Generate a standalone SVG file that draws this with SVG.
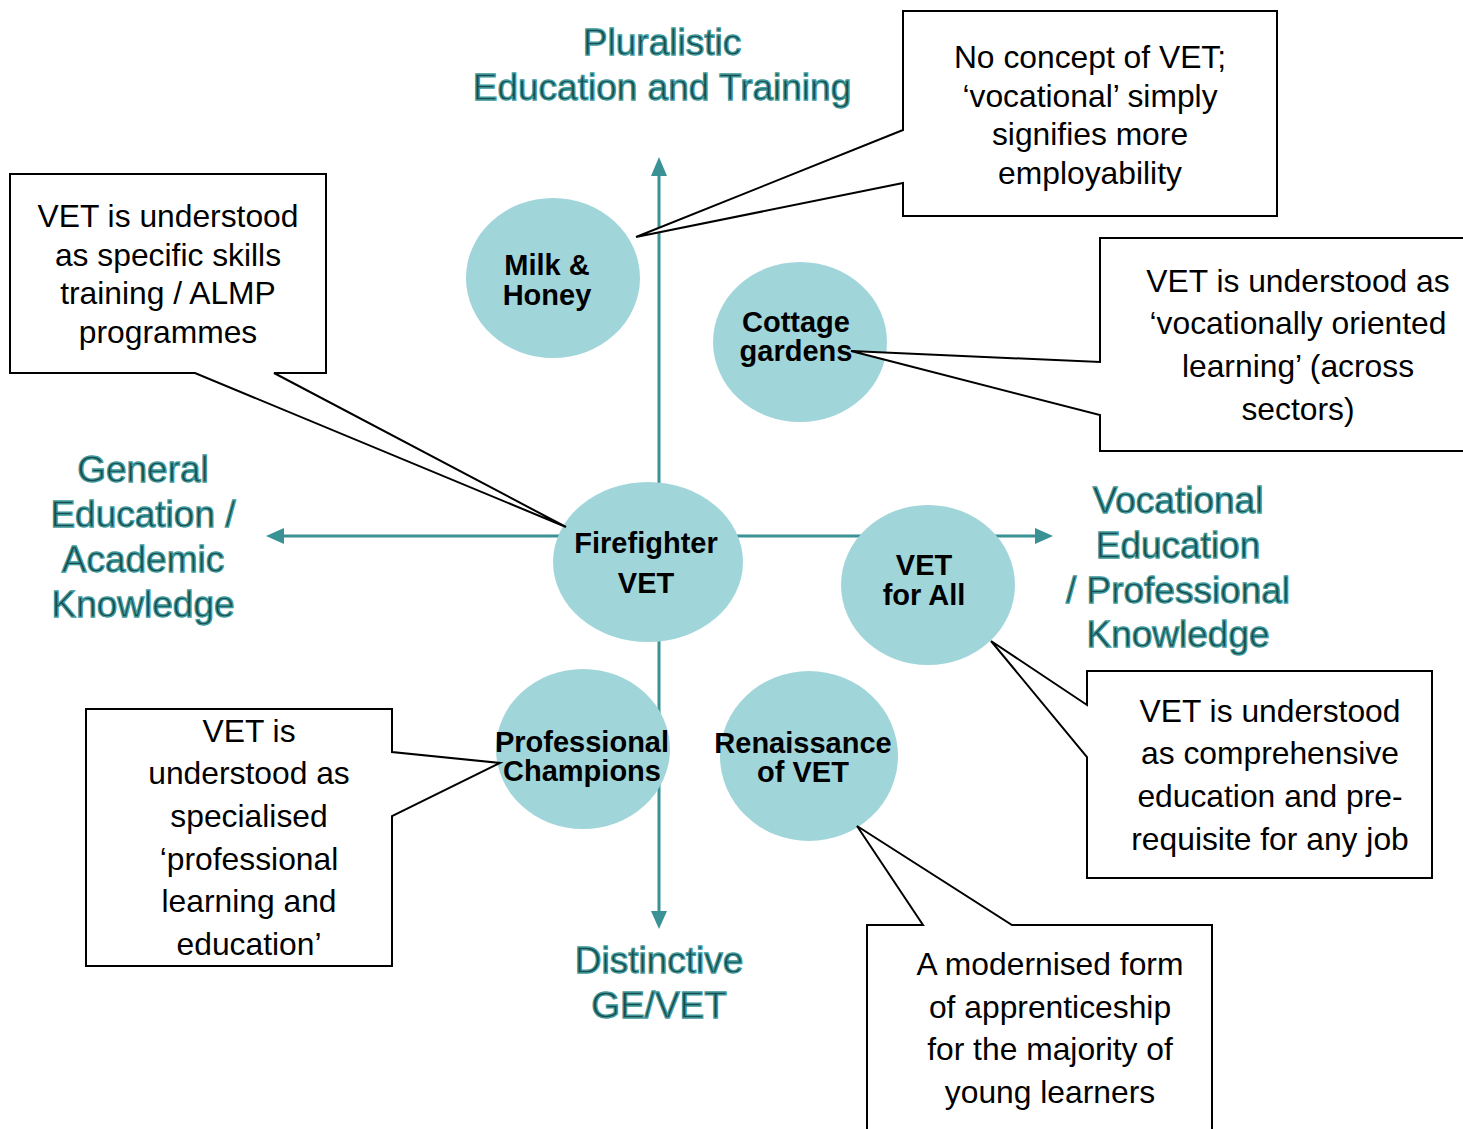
<svg xmlns="http://www.w3.org/2000/svg" width="1463" height="1129" viewBox="0 0 1463 1129">
  <style>
    .axis { stroke: #3a9294; stroke-width: 3; fill: none; }
    .head { fill: #3a9294; }
    .node { fill: #a0d5da; }
    .nlabel { font-family: "Liberation Sans", Arial, sans-serif; font-weight: bold; font-size: 29px; fill: #000; text-anchor: middle; }
    .callout { fill: #fff; stroke: #000; stroke-width: 2; stroke-linejoin: miter; }
    .ctext { font-family: "Liberation Sans", Arial, sans-serif; font-size: 31.8px; fill: #000; text-anchor: middle; }
    .alabel { font-family: "Liberation Sans", Arial, sans-serif; font-size: 37px; fill: #1a4b4d; stroke: #3e9a9c; stroke-width: 1.3; text-anchor: middle; }
  </style>
  <rect width="1463" height="1129" fill="#fff"/>

  <!-- axes -->
  <g id="connectors">
    <line class="axis" x1="659" y1="172" x2="659" y2="914"/>
    <line class="axis" x1="281" y1="536" x2="1038" y2="536"/>
    <polygon class="head" points="659,157 667,176 651,176"/>
    <polygon class="head" points="659,929 667,911 651,911"/>
    <polygon class="head" points="266,536 284,528 284,544"/>
    <polygon class="head" points="1053,536 1035,528 1035,544"/>
  </g>

  <!-- axis labels -->
  <g id="axis-top">
    <text class="alabel" x="662" y="55">Pluralistic</text>
    <text class="alabel" x="662" y="100">Education and Training</text>
  </g>
  <g id="axis-left">
    <text class="alabel" x="143" y="482">General</text>
    <text class="alabel" x="143" y="527">Education /</text>
    <text class="alabel" x="143" y="572">Academic</text>
    <text class="alabel" x="143" y="617">Knowledge</text>
  </g>
  <g id="axis-right">
    <text class="alabel" x="1178" y="513">Vocational</text>
    <text class="alabel" x="1178" y="558">Education</text>
    <text class="alabel" x="1178" y="603">/ Professional</text>
    <text class="alabel" x="1178" y="647">Knowledge</text>
  </g>
  <g id="axis-bottom">
    <text class="alabel" x="659" y="973">Distinctive</text>
    <text class="alabel" x="659" y="1018">GE/VET</text>
  </g>

  <!-- model nodes -->
  <g id="milk-honey">
    <ellipse class="node" cx="553" cy="278" rx="87" ry="80"/>
    <text class="nlabel" x="547" y="275">Milk &amp;</text>
    <text class="nlabel" x="547" y="305">Honey</text>
  </g>
  <g id="cottage-gardens">
    <ellipse class="node" cx="800" cy="342" rx="87" ry="80"/>
    <text class="nlabel" x="796" y="332">Cottage</text>
    <text class="nlabel" x="796" y="361">gardens</text>
  </g>
  <g id="firefighter-vet">
    <ellipse class="node" cx="648" cy="562" rx="95" ry="80"/>
    <text class="nlabel" x="646" y="553">Firefighter</text>
    <text class="nlabel" x="646" y="593">VET</text>
  </g>
  <g id="vet-for-all">
    <ellipse class="node" cx="928" cy="585" rx="87" ry="80"/>
    <text class="nlabel" x="924" y="575">VET</text>
    <text class="nlabel" x="924" y="605">for All</text>
  </g>
  <g id="professional-champions">
    <ellipse class="node" cx="583" cy="749" rx="87" ry="80"/>
    <text class="nlabel" x="582" y="752">Professional</text>
    <text class="nlabel" x="582" y="781">Champions</text>
  </g>
  <g id="renaissance-vet">
    <ellipse class="node" cx="809" cy="756" rx="89" ry="85"/>
    <text class="nlabel" x="803" y="753">Renaissance</text>
    <text class="nlabel" x="803" y="782">of VET</text>
  </g>

  <!-- callouts -->
  <g id="callout-firefighter">
    <path class="callout" d="M10,174 H326 V373 H274 L566,527 L195,373 H10 Z"/>
    <text class="ctext" x="168" y="227">VET is understood</text>
    <text class="ctext" x="168" y="266">as specific skills</text>
    <text class="ctext" x="168" y="304">training / ALMP</text>
    <text class="ctext" x="168" y="343">programmes</text>
  </g>
  <g id="callout-milk-honey">
    <path class="callout" d="M903,11 H1277 V216 H903 V183 L636,237 L903,130 Z"/>
    <text class="ctext" x="1090" y="68">No concept of VET;</text>
    <text class="ctext" x="1090" y="107">‘vocational’ simply</text>
    <text class="ctext" x="1090" y="145">signifies more</text>
    <text class="ctext" x="1090" y="184">employability</text>
  </g>
  <g id="callout-cottage">
    <path class="callout" d="M1100,238 H1470 V451 H1100 V415 L851,351 L1100,362 Z"/>
    <text class="ctext" x="1298" y="292">VET is understood as</text>
    <text class="ctext" x="1298" y="334">‘vocationally oriented</text>
    <text class="ctext" x="1298" y="377">learning’ (across</text>
    <text class="ctext" x="1298" y="420">sectors)</text>
  </g>
  <g id="callout-vet-for-all">
    <path class="callout" d="M1087,671 H1432 V878 H1087 V757 L991,641 L1087,705 Z"/>
    <text class="ctext" x="1270" y="722">VET is understood</text>
    <text class="ctext" x="1270" y="764">as comprehensive</text>
    <text class="ctext" x="1270" y="807">education and pre-</text>
    <text class="ctext" x="1270" y="850">requisite for any job</text>
  </g>
  <g id="callout-professional">
    <path class="callout" d="M86,709 H392 V752 L500,763 L392,816 V966 H86 Z"/>
    <text class="ctext" x="249" y="742">VET is</text>
    <text class="ctext" x="249" y="784">understood as</text>
    <text class="ctext" x="249" y="827">specialised</text>
    <text class="ctext" x="249" y="870">‘professional</text>
    <text class="ctext" x="249" y="912">learning and</text>
    <text class="ctext" x="249" y="955">education’</text>
  </g>
  <g id="callout-renaissance">
    <path class="callout" d="M867,1140 V925 H923 L857,826 L1012,925 H1212 V1140"/>
    <text class="ctext" x="1050" y="975">A modernised form</text>
    <text class="ctext" x="1050" y="1018">of apprenticeship</text>
    <text class="ctext" x="1050" y="1060">for the majority of</text>
    <text class="ctext" x="1050" y="1103">young learners</text>
  </g>
</svg>
